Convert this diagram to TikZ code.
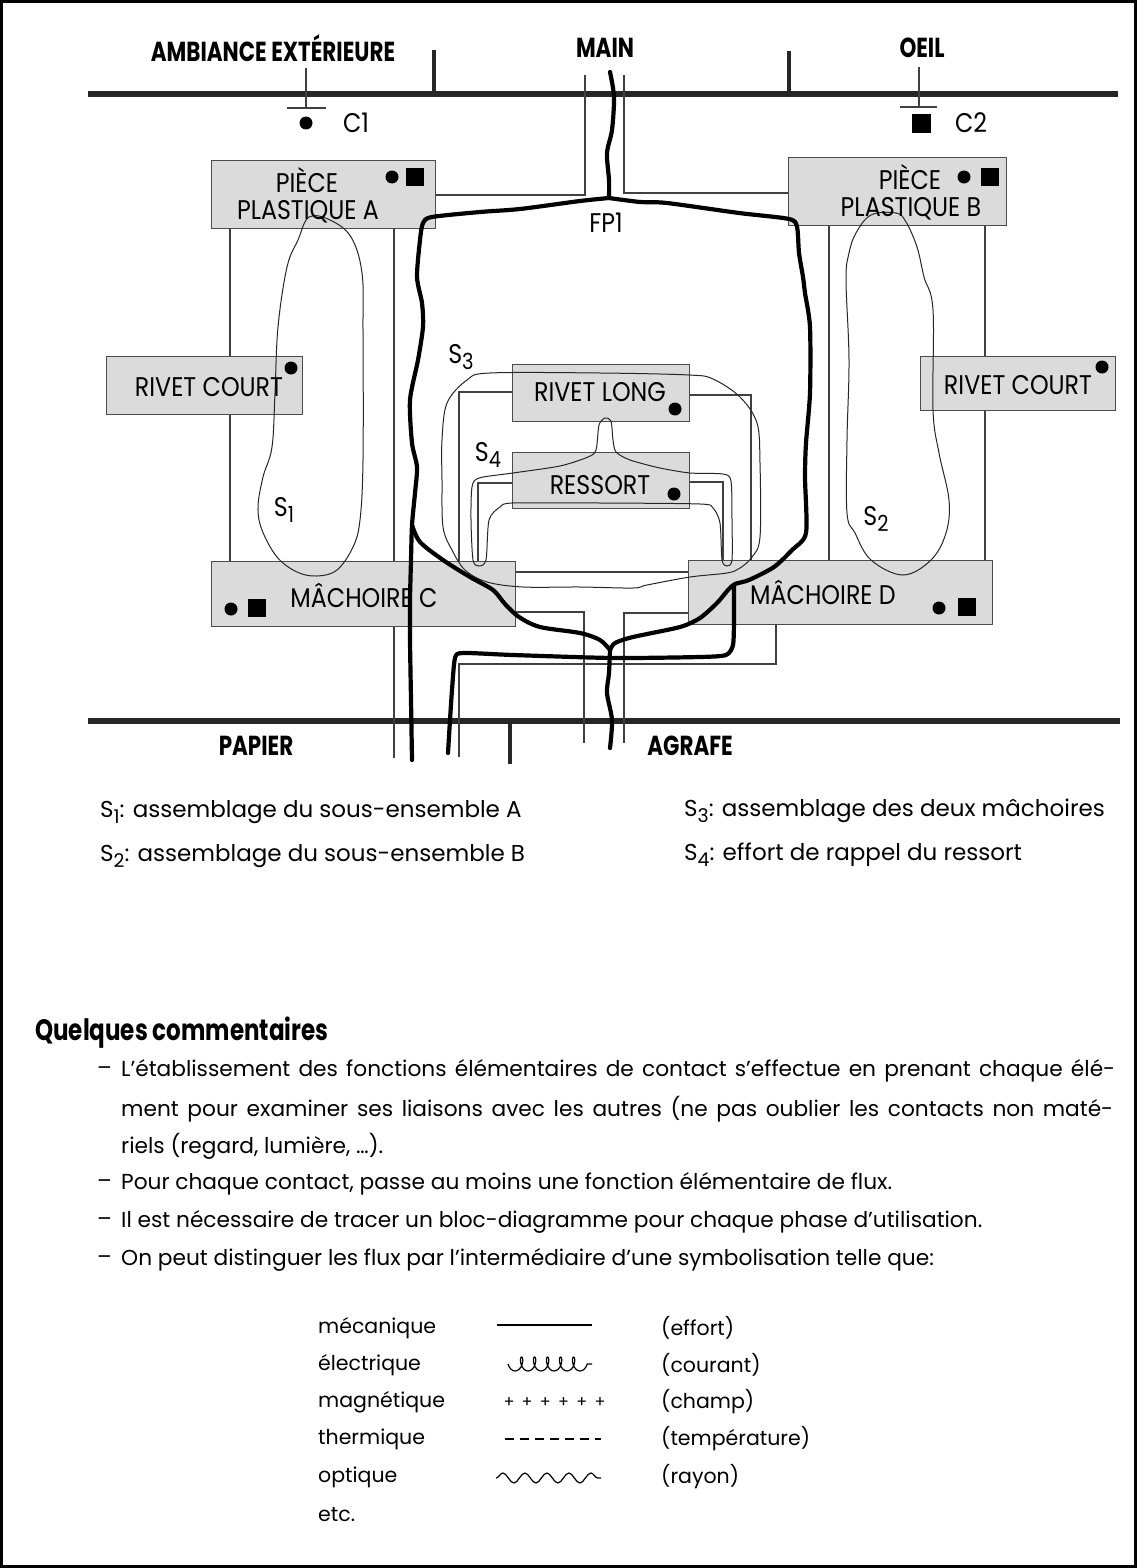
\documentclass[tikz,border=0pt]{standalone}
\usepackage{fontspec}
\usepackage{graphicx}
\setmainfont{Poppins}
\newfontfamily\boxfont{Poppins}[FakeStretch=0.88]
\newfontfamily\headfont{Poppins}[FakeStretch=0.78]
\usetikzlibrary{decorations.pathmorphing}
\newcommand\mysub[1]{\raisebox{-0.45ex}{\scalebox{0.82}{#1}}}
\tikzset{
  blk/.style={draw=black!70, line width=1pt, fill=black!14, inner sep=0pt},
  thinln/.style={draw=black!75, line width=1.1pt},
  flux/.style={draw=black, line width=4.2pt, line join=round, line cap=round},
  sloop/.style={draw=black!85, line width=1pt},
  barln/.style={draw=black!85, line width=6pt},
  tickln/.style={draw=black!85, line width=4.5pt},
  boxtxt/.style={font=\boxfont\fontsize{27}{27}\selectfont, inner sep=0pt},
  headtxt/.style={font=\headfont\bfseries\fontsize{27.5}{27.5}\selectfont, inner sep=0pt},
  bodytxt/.style={font=\fontsize{21.7}{21.7}\selectfont, inner sep=0pt, anchor=west},
  slegtxt/.style={font=\fontsize{23}{23}\selectfont, inner sep=0pt, anchor=west},
  legtxt/.style={font=\fontsize{20.5}{20.5}\selectfont, inner sep=0pt, anchor=west},
  dotmark/.style={circle, fill=black, inner sep=0pt, minimum size=13pt},
  sqmark/.style={rectangle, fill=black, inner sep=0pt, minimum size=18pt},
}
\begin{document}
\begin{tikzpicture}[x=1pt,y=-1pt]
\useasboundingbox (0,0) rectangle (1137,1568);
\fill[white] (0,0) rectangle (1137,1568);
\draw[line width=3pt] (1.5,1.5) rectangle (1135.5,1566.5);

% ---------- bars and ticks
\coordinate (tbL) at (88,94);  \coordinate (tbR) at (1118,94);
\coordinate (bbL) at (88,721); \coordinate (bbR) at (1120,721);
\draw[barln] (tbL) -- (tbR);
\draw[barln] (bbL) -- (bbR);
\coordinate (t1) at (434,50); \draw[tickln] (t1) -- (t1 |- tbL);
\coordinate (t2) at (789,51); \draw[tickln] (t2) -- (t2 |- tbL);
\coordinate (t3) at (510,764); \draw[tickln] (t3) -- (t3 |- bbL);

% ---------- C1 / C2 contacts
\coordinate (c1t) at (306,68); \coordinate (c1b) at (306,108);
\draw[thinln] (c1t) -- (c1b);
\draw[thinln] ([xshift=-19pt]c1b) -- ([xshift=20pt]c1b);
\coordinate (c2t) at (919,67); \coordinate (c2b) at (919,107);
\draw[thinln] (c2t) -- (c2b);
\draw[thinln] ([xshift=-19pt]c2b) -- ([xshift=18pt]c2b);
\node[dotmark] (c1dot) at (306,123) {};
\node[sqmark, minimum size=19pt] (c2sq) at (921,124) {};
\node[boxtxt] (c1) at (356,123) {C1};
\node[boxtxt] (c2) at (971,123) {C2};

% ---------- helper coordinates
\coordinate (v230) at (230,0);  \coordinate (v394) at (394,0);
\coordinate (v829) at (829,0);  \coordinate (v985) at (985,0);
\coordinate (v459) at (459,0);  \coordinate (v478) at (478,0);
\coordinate (v751) at (751,0);  \coordinate (v723) at (723,0);
\coordinate (v776) at (776,0);
\coordinate (h195) at (0,195);  \coordinate (h193) at (0,193);
\coordinate (h392) at (0,392);  \coordinate (h395) at (0,395);
\coordinate (h483) at (0,483);  \coordinate (h482) at (0,482);
\coordinate (h572) at (0,572);  \coordinate (h612) at (0,612);
\coordinate (h613) at (0,613);
\coordinate (mainL) at (585,75); \coordinate (mainR) at (624,75);
\coordinate (agL) at (584,743);  \coordinate (agR) at (624,743);
\coordinate (papA) at (394,758);
\coordinate (papB) at (459,664); \coordinate (papC) at (459,757);

% ---------- boxes (named, empty; drawn after thin lines)
\path
  (323.5,194.5) node[minimum width=223pt, minimum height=67pt, inner sep=0pt] (PA) {}
  (897.5,191.5) node[minimum width=217pt, minimum height=67pt, inner sep=0pt] (PB) {}
  (204.5,385.5) node[minimum width=195pt, minimum height=57pt, inner sep=0pt] (RCL) {}
  (1018,383.5)  node[minimum width=194pt, minimum height=53pt, inner sep=0pt] (RCR) {}
  (601,393)     node[minimum width=176pt, minimum height=56pt, inner sep=0pt] (RL) {}
  (601,480.5)   node[minimum width=176pt, minimum height=55pt, inner sep=0pt] (RS) {}
  (363.5,594)   node[minimum width=303pt, minimum height=64pt, inner sep=0pt] (MC) {}
  (840.5,592.5) node[minimum width=303pt, minimum height=63pt, inner sep=0pt] (MD) {};

% ---------- thin connectors
\draw[thinln] (PA.south -| v230) -- (MC.north -| v230);
\draw[thinln] (PA.south -| v394) -- (papA);
\draw[thinln] (PA.east |- h195) -| (mainL);
\draw[thinln] (PB.west |- h193) -| (mainR);
\draw[thinln] (PB.south -| v829) -- (MD.north -| v829);
\draw[thinln] (PB.south -| v985) -- (MD.north -| v985);
\draw[thinln] (RL.west |- h392) -| (MC.north -| v459);
\draw[thinln] (RL.east |- h395) -| (MD.north -| v751);
\draw[thinln] (RS.west |- h483) -| (MC.north -| v478);
\draw[thinln] (RS.east |- h482) -| (MD.north -| v723);
\draw[thinln] (MC.east |- h572) -- (MD.west |- h572);
\draw[thinln] (MC.east |- h612) -| (agL);
\draw[thinln] (MD.west |- h613) -| (agR);
\draw[thinln] (MD.south -| v776) |- (papB) -- (papC);

% ---------- box fills
\foreach \b in {PA,PB,RCL,RCR,RL,RS,MC,MD}
  \draw[blk] (\b.south west) rectangle (\b.north east);

% ---------- S loops
\draw[sloop] plot[smooth cycle, tension=0.6] coordinates {
  (309,217) (330,220) (351,237) (362,273) (363,330) (363,460) (360,520)
  (353,547) (337,570) (317,576) (297,572) (277,557) (262,530) (258,507)
  (263,477) (272,447) (275,393) (278,327) (287,267) (298,240)};
\draw[sloop] plot[smooth cycle, tension=0.6] coordinates {
  (896,213) (906,222) (917,247) (924,277) (933,310) (933,410) (939,453)
  (949,500) (946,533) (931,560) (903,575) (871,560) (855,533) (847,513)
  (847,440) (849,360) (846,280) (849,253) (856,233) (871,215)};
\draw[sloop] plot[smooth cycle, tension=0.55] coordinates {
  (442,440) (447,403) (467,380) (490,373) (600,373) (689,375) (713,379)
  (740,397) (757,423) (760,463) (760,537) (752,557) (740,568) (727,573)
  (690,577) (647,585) (633,588) (580,587) (523,587) (487,582) (465,570)
  (452,550) (443,527) (442,480)};
\draw[sloop] plot[smooth cycle, tension=0.45] coordinates {
  (605,418) (611,421) (613,440) (616,452) (630,460) (660,468) (690,473)
  (723,474) (731,481) (732,520) (732,560) (727,566) (722,560) (720,523)
  (713,508) (700,504) (600,503) (513,503) (500,507) (489,520) (486,560)
  (479,566) (473,560) (471,520) (472,487) (479,478) (513,473) (560,466)
  (588,457) (596,450) (599,425)};

% ---------- flux (thick) lines
\coordinate (J1) at (609,198);
\coordinate (J2) at (412,525);
\coordinate (J3) at (610,650);
\coordinate (J4) at (735,584);
\draw[flux] plot[smooth, tension=0.5] coordinates {
  (610,72) (614,97) (612,130) (607,153) (609,180) (J1)};
\draw[flux] plot[smooth, tension=0.45] coordinates {
  (J1) (580,201) (520,209) (480,212) (432,217) (423,223) (420,240) (417,277)
  (422,303) (423,327) (418,360) (410,400) (412,443) (417,467) (415,493)
  (J2) (411,560) (410,600) (410,640) (411,700) (412,760)};
\draw[flux] plot[smooth, tension=0.5] coordinates {
  (J2) (420,542) (443,560) (470,577) (493,590) (505,604) (519,617) (540,627)
  (580,633) (600,640) (J3)};
\draw[flux] plot[smooth, tension=0.45] coordinates {
  (J1) (640,202) (667,203) (739,213) (789,219) (797,227) (799,253) (803,277)
  (805,293) (810,327) (810,393) (806,443) (805,477) (806,533) (792,550)
  (774,567) (749,580) (J4) (728,590) (717,603) (700,618) (680,627) (633,637)
  (615,643) (J3)};
\draw[flux] plot[smooth, tension=0.5] coordinates {
  (J3) (609,673) (607,693) (612,720) (610,748)};
\draw[flux] plot[smooth, tension=0.4] coordinates {
  (734,585) (734,620) (733,645) (726,655) (700,657) (613,658) (513,655)
  (463,653) (455,658) (452,690) (450,720) (448,753)};

% ---------- box captions and marks
\node[boxtxt] (paT1) at (307,180) {PIÈCE};
\node[boxtxt] (paT2) at (308,212) {PLASTIQUE A};
\node[dotmark] (paD) at (392,177) {};
\node[sqmark] (paS) at (415,177) {};
\node[boxtxt] (pbT1) at (910,177) {PIÈCE};
\node[boxtxt] (pbT2) at (911,209) {PLASTIQUE B};
\node[dotmark] (pbD) at (964,177) {};
\node[sqmark] (pbS) at (989.5,177) {};
\node[boxtxt] (rclT) at (209,387) {RIVET COURT};
\node[dotmark] (rclD) at (291,368) {};
\node[boxtxt] (rcrT) at (1018,385) {RIVET COURT};
\node[dotmark] (rcrD) at (1102,367) {};
\node[boxtxt] (rlT) at (600,392) {RIVET LONG};
\node[dotmark] (rlD) at (675,409) {};
\node[boxtxt] (rsT) at (600,485) {RESSORT};
\node[dotmark] (rsD) at (674,494) {};
\node[boxtxt] (mcT) at (364,595) {MÂCHOIRE C};
\node[dotmark] (mcD) at (231,609) {};
\node[sqmark] (mcS) at (256.5,608) {};
\node[boxtxt] (mdT) at (823,592) {MÂCHOIRE D};
\node[dotmark] (mdD) at (939,608) {};
\node[sqmark] (mdS) at (966.5,607) {};
\node[boxtxt] (fp1) at (606,223) {FP1};

% ---------- S labels
\node[boxtxt] (s1) at (284,510) {S\mysub{1}};
\node[boxtxt] (s2) at (876,519) {S\mysub{2}};
\node[boxtxt] (s3) at (461,357) {S\mysub{3}};
\node[boxtxt] (s4) at (488,455) {S\mysub{4}};

% ---------- bar labels
\node[headtxt] (amb) at (273,48) {AMBIANCE EXTÉRIEURE};
\node[headtxt] (mainT) at (605,48) {MAIN};
\node[headtxt] (oeil) at (922,48) {OEIL};
\node[headtxt] (papier) at (256,746) {PAPIER};
\node[headtxt] (agrafe) at (690,746) {AGRAFE};

% ---------- S legend
\node[slegtxt] (l1) at (100,812) {S\mysub{1}: assemblage du sous-ensemble A};
\node[slegtxt] (l2) at (100,856) {S\mysub{2}: assemblage du sous-ensemble B};
\node[slegtxt] (l3) at (684,811) {S\mysub{3}: assemblage des deux mâchoires};
\node[slegtxt] (l4) at (684,855) {S\mysub{4}: effort de rappel du ressort};

% ---------- comments
\node[headtxt, anchor=west, font=\headfont\bfseries\fontsize{29.5}{29.5}\selectfont] (qc) at (35,1033) {Quelques commentaires};
\node[bodytxt] (d1) at (97,1071) {–};
\node[bodytxt] (b1) at (121,1071) {\makebox[994pt][s]{L’établissement des fonctions élémentaires de contact s’effectue en prenant chaque élé-}};
\node[bodytxt] (b2) at (121,1109) {\makebox[992pt][s]{ment pour examiner ses liaisons avec les autres (ne pas oublier les contacts non maté-}};
\node[bodytxt] (b3) at (121,1146) {riels (regard, lumière, …).};
\node[bodytxt] (d4) at (97,1184) {–};
\node[bodytxt] (b4) at (121,1184) {Pour chaque contact, passe au moins une fonction élémentaire de flux.};
\node[bodytxt] (d5) at (97,1222) {–};
\node[bodytxt] (b5) at (121,1222) {Il est nécessaire de tracer un bloc-diagramme pour chaque phase d’utilisation.};
\node[bodytxt] (d6) at (97,1260) {–};
\node[bodytxt] (b6) at (121,1260) {On peut distinguer les flux par l’intermédiaire d’une symbolisation telle que:};

% ---------- flux legend
\node[legtxt] (m1) at (318,1328) {mécanique};
\node[legtxt] (m2) at (318,1365) {électrique};
\node[legtxt] (m3) at (318,1402) {magnétique};
\node[legtxt] (m4) at (318,1439) {thermique};
\node[legtxt] (m5) at (318,1477) {optique};
\node[legtxt] (m6) at (318,1515) {etc.};
\node[legtxt] (p1) at (661,1328) {(effort)};
\node[legtxt] (p2) at (661,1365) {(courant)};
\node[legtxt] (p3) at (661,1402) {(champ)};
\node[legtxt] (p4) at (661,1439) {(température)};
\node[legtxt] (p5) at (661,1477) {(rayon)};
\coordinate (k1a) at (497,1325); \coordinate (k1b) at (592,1325);
\draw[line width=1.2pt] (k1a) -- (k1b);
\coordinate (k2a) at (508,1364); \coordinate (k2b) at (592,1364);
\draw[line width=1.2pt, decorate, decoration={coil, mirror, aspect=0.55, segment length=13pt, amplitude=7pt}] (k2a) -- (k2b);
\foreach \i in {0,...,5} \node[font=\fontsize{16}{16}\selectfont, inner sep=0pt] at (509+18.2*\i,1403) {+};
\coordinate (k4a) at (505,1439); \coordinate (k4b) at (601,1439);
\draw[line width=1.2pt, dash pattern=on 9pt off 6pt] (k4a) -- (k4b);
\coordinate (k5a) at (496,1478); \coordinate (k5b) at (601,1478);
\draw[line width=1.2pt, decorate, decoration={snake, segment length=22pt, amplitude=5pt}] (k5a) -- (k5b);
\end{tikzpicture}
\end{document}
